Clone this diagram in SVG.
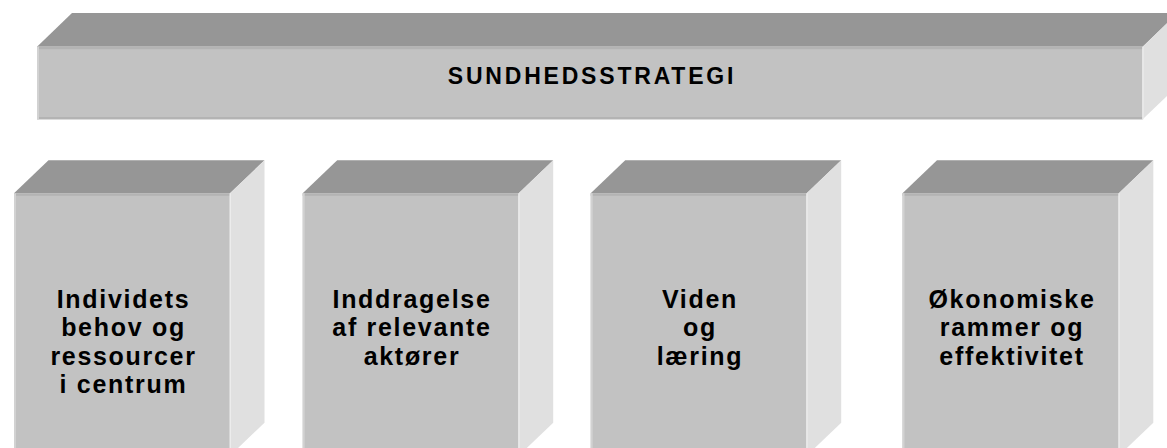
<svg xmlns="http://www.w3.org/2000/svg" width="1167" height="448" viewBox="0 0 1167 448">
<style>
.top{fill:#969696}
.front{fill:#c2c2c2}
.side{fill:#e0e0e0}
.tstrip{fill:#b3b3b3}
.lstrip{fill:#d2d2d2}
.rline{fill:#ececec}
.bstrip{fill:#b3b3b3}
.lbl{font-family:"Liberation Sans",Arial,sans-serif;font-weight:bold;fill:#000;text-anchor:middle}
.big{font-size:23px;letter-spacing:2.8px}
.box{font-size:25px;letter-spacing:1.7px}
</style>
<rect width="1167" height="448" fill="#fff"/>
<g id="sundhedsstrategi">
<polygon class="top" points="37,46.7 72,13 1177.7,13 1142.7,46.7"/>
<polygon class="side" points="1142.7,46.7 1177.7,13 1177.7,85.7 1142.7,119.3"/>
<rect class="front" x="37" y="46.7" width="1105.7" height="72.6"/>
<rect class="tstrip" x="37" y="46.7" width="1105.7" height="2.5"/>
<rect class="bstrip" x="37" y="117" width="1105.7" height="2.3"/>
<rect class="lstrip" x="37" y="46.7" width="2" height="72.6"/>
<rect class="rline" x="1142.2" y="46.7" width="1.5" height="72.6"/>
<text class="lbl big" x="592" y="84">SUNDHEDSSTRATEGI</text>
</g>
<g id="box1">
<polygon class="top" points="14,193.3 48.5,160.3 264.5,160.3 230,193.3"/>
<polygon class="side" points="230,193.3 264.5,160.3 264.5,422.7 230,455.7"/>
<rect class="front" x="14" y="193.3" width="216" height="262.4"/>
<rect class="tstrip" x="14" y="193.3" width="216" height="2.5"/>
<rect class="lstrip" x="14" y="193.3" width="2" height="262.4"/>
<rect class="rline" x="229.5" y="193.3" width="1.5" height="262.4"/>
<text class="lbl box" x="123.5" y="307.5">Individets</text>
<text class="lbl box" x="123.5" y="336">behov og</text>
<text class="lbl box" x="123.5" y="364.5">ressourcer</text>
<text class="lbl box" x="123.5" y="393">i centrum</text>
</g>
<g id="box2">
<polygon class="top" points="302.7,193.3 337.2,160.3 553.2,160.3 518.7,193.3"/>
<polygon class="side" points="518.7,193.3 553.2,160.3 553.2,422.7 518.7,455.7"/>
<rect class="front" x="302.7" y="193.3" width="216" height="262.4"/>
<rect class="tstrip" x="302.7" y="193.3" width="216" height="2.5"/>
<rect class="lstrip" x="302.7" y="193.3" width="2" height="262.4"/>
<rect class="rline" x="518.2" y="193.3" width="1.5" height="262.4"/>
<text class="lbl box" x="412" y="307.5">Inddragelse</text>
<text class="lbl box" x="412" y="336">af relevante</text>
<text class="lbl box" x="412" y="364.5">aktører</text>
</g>
<g id="box3">
<polygon class="top" points="590.7,193.3 625.2,160.3 841.2,160.3 806.7,193.3"/>
<polygon class="side" points="806.7,193.3 841.2,160.3 841.2,422.7 806.7,455.7"/>
<rect class="front" x="590.7" y="193.3" width="216" height="262.4"/>
<rect class="tstrip" x="590.7" y="193.3" width="216" height="2.5"/>
<rect class="lstrip" x="590.7" y="193.3" width="2" height="262.4"/>
<rect class="rline" x="806.2" y="193.3" width="1.5" height="262.4"/>
<text class="lbl box" x="700" y="307.5">Viden</text>
<text class="lbl box" x="700" y="336">og</text>
<text class="lbl box" x="700" y="364.5">læring</text>
</g>
<g id="box4">
<polygon class="top" points="902.5,193.3 937,160.3 1153.3,160.3 1118.8,193.3"/>
<polygon class="side" points="1118.8,193.3 1153.3,160.3 1153.3,422.7 1118.8,455.7"/>
<rect class="front" x="902.5" y="193.3" width="216.3" height="262.4"/>
<rect class="tstrip" x="902.5" y="193.3" width="216.3" height="2.5"/>
<rect class="lstrip" x="902.5" y="193.3" width="2" height="262.4"/>
<rect class="rline" x="1118.3" y="193.3" width="1.5" height="262.4"/>
<text class="lbl box" x="1012" y="307.5">Økonomiske</text>
<text class="lbl box" x="1012" y="336">rammer og</text>
<text class="lbl box" x="1012" y="364.5">effektivitet</text>
</g>
<g id="connectors"></g>
</svg>
